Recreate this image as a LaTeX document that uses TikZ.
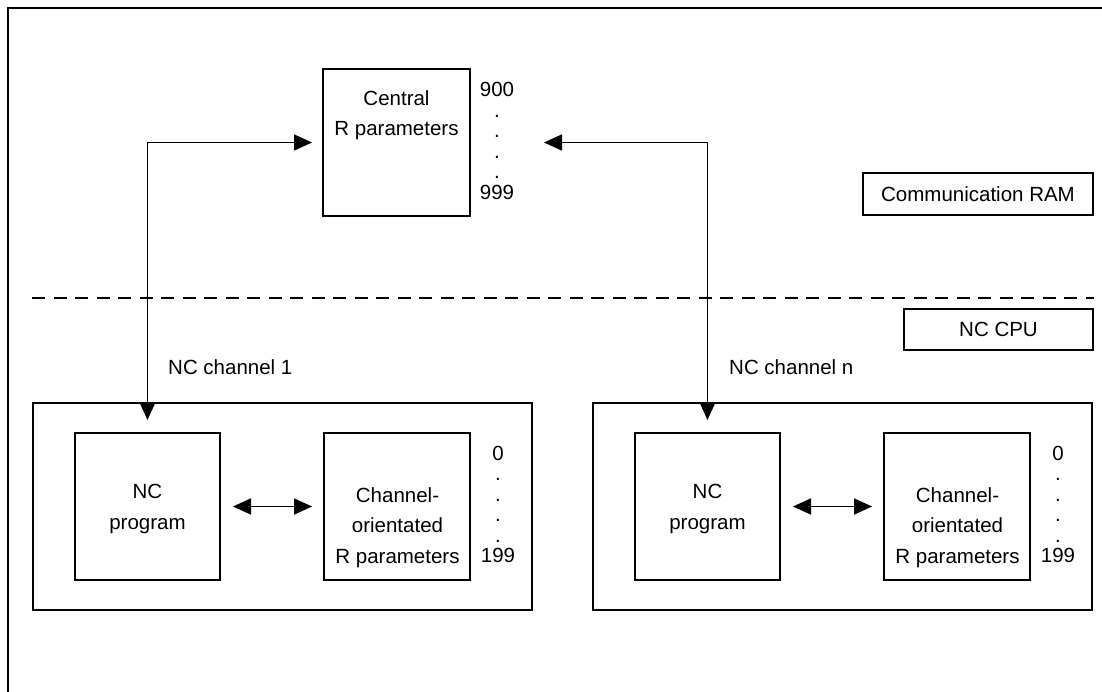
\documentclass[tikz,border=0pt]{standalone}
\usepackage{fontspec}
\setmainfont{Liberation Sans}
\usetikzlibrary{arrows.meta}
\begin{document}
\begin{tikzpicture}[x=1pt,y=-1pt,
  frameline/.style={line width=2pt},
  blk/.style={draw, line width=1.8pt, inner sep=0pt, outer sep=0pt},
  txt/.style={font=\fontsize{20.5}{30.5}\selectfont, align=center, inner sep=0pt},
  nums/.style={font=\fontsize{20.5}{20.5}\selectfont, align=center, inner sep=0pt},
  lbl/.style={font=\fontsize{20.5}{24}\selectfont, inner sep=0pt},
  link/.style={line width=1.7pt, {Triangle[length=18pt,width=16pt]}-{Triangle[length=18pt,width=16pt]}},
  separator/.style={line width=1.7pt, dash pattern=on 13pt off 8.5pt}
]
\useasboundingbox (0,0) rectangle (1102,692);

% outer frame (open towards the right and bottom)
\draw[frameline] (8,700) -- (8,8) -- (1110,8);

% communication RAM area
\node[blk, minimum width=147pt, minimum height=147pt] (cr) at (396.5,142.5) {};
\node[txt] (crtxt) at (396.5,115) {Central\\R parameters};
\node[nums] (crnum) at (497,140.7) {900\\.\\.\\.\\.\\999};
\node[blk, minimum width=230pt, minimum height=42pt, font=\fontsize{20.5}{24}\selectfont] (ram) at (978,194) {Communication RAM};

% boundary between the two memory areas
\draw[separator] (32,298) -- (1094,298);
\node[blk, minimum width=189pt, minimum height=41pt, font=\fontsize{20.5}{24}\selectfont] (cpu) at (998.5,329.5) {NC CPU};

% NC channel 1
\node[lbl, anchor=base west] (lbl1) at (168,374) {NC channel 1};
\node[blk, minimum width=499pt, minimum height=207pt] (chan1) at (282.5,506.5) {};
\node[blk, minimum width=145pt, minimum height=147pt] (np1) at (147.5,506.5) {};
\node[txt] (np1txt) at (147.5,509) {NC\\program};
\node[blk, minimum width=146pt, minimum height=147pt] (rp1) at (397,506.5) {};
\node[txt] (rp1txt) at (397.5,527.3) {Channel-\\orientated\\R parameters};
\node[nums] (rp1num) at (498,504.2) {0\\.\\.\\.\\.\\199};

% NC channel n
\node[lbl, anchor=base west] (lbln) at (729,374) {NC channel n};
\node[blk, minimum width=499pt, minimum height=207pt] (chan2) at (842.5,506.5) {};
\node[blk, minimum width=145pt, minimum height=147pt] (np2) at (707.5,506.5) {};
\node[txt] (np2txt) at (707.5,509) {NC\\program};
\node[blk, minimum width=146pt, minimum height=147pt] (rp2) at (957,506.5) {};
\node[txt] (rp2txt) at (957.5,527.3) {Channel-\\orientated\\R parameters};
\node[nums] (rp2num) at (1058,504.2) {0\\.\\.\\.\\.\\199};

% data exchange
\draw[link] ([xshift=-11pt]cr.west) -| ([yshift=13pt]np1.north);
\draw[link] ([xshift=74pt]cr.east) -| ([yshift=13pt]np2.north);
\draw[link] ([xshift=13pt]np1.east) -- ([xshift=-12pt]rp1.west);
\draw[link] ([xshift=13pt]np2.east) -- ([xshift=-12pt]rp2.west);
\end{tikzpicture}
\end{document}
